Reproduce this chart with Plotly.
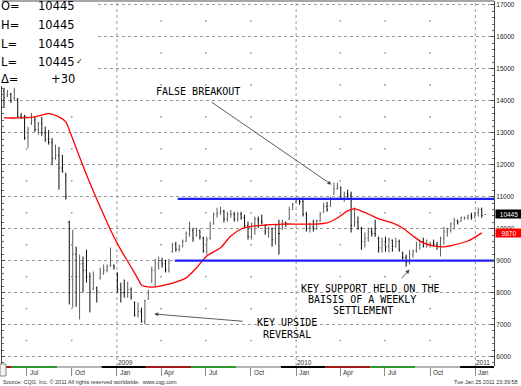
import plotly.graph_objects as go
import pandas as pd

# ---------------- data ----------------
week_start = "2008-05-16"
n_weeks = 141
weeks = pd.date_range(week_start, periods=n_weeks, freq="7D")

highs = [14410, 14340, 14250, 14410, 14090, 13620, 13560, 13190, 13620, 13500,
         13340, 13500, 13190, 13090, 12840, 12630, 12560, 12310, 11750, 10250,
         9970, 9440, 9190, 9130, 9340, 8630, 8660, 8190, 8780, 8880,
         8880, 9410, 8880, 8630, 8310, 8410, 8340, 8160, 7720, 7690,
         7530, 7780, 8090, 8810, 9060, 9130, 9090, 9030, 9060, 9560,
         9590, 9500, 9660, 9910, 10220, 10030, 10030, 9970, 9750, 9750,
         10220, 10500, 10660, 10690, 10590, 10530, 10590, 10530, 10530, 10530,
         10440, 10220, 10190, 10380, 10380, 10440, 10130, 10060, 10030, 10130,
         10280, 10280, 10220, 10690, 10810, 10970, 10970, 10970, 10530, 10190,
         10280, 10280, 10530, 10810, 10840, 11000, 11440, 11440, 11310, 11160,
         11220, 11160, 10660, 10380, 10060, 9880, 10030, 10030, 10280, 9750,
         9720, 9750, 9720, 9660, 9720, 9660, 9280, 9190, 9340, 9340,
         9590, 9660, 9720, 9660, 9590, 9660, 9590, 9750, 10060, 10030,
         10190, 10340, 10280, 10380, 10380, 10440, 10500, 10530, 10660, 10660,
         10445]
lows = [13780, 14120, 13940, 14030, 13470, 13440, 12780, 12530, 13250, 13030,
        12940, 12910, 12720, 12630, 12000, 12160, 11220, 11750, 10910, 7630,
        7530, 7560, 7160, 8000, 8310, 7380, 8090, 7690, 8410, 8560,
        8630, 8810, 8720, 8000, 7690, 7840, 7840, 7780, 7250, 7220,
        7060, 7000, 7780, 8310, 8190, 8720, 8780, 8630, 8630, 9250,
        9280, 9280, 9410, 9590, 9750, 9590, 9750, 9660, 9250, 9190,
        9660, 10130, 10340, 10440, 10190, 10220, 10340, 10220, 10220, 10280,
        10030, 9660, 9660, 9810, 10030, 10130, 9810, 9720, 9440, 9500,
        9190, 9970, 10060, 10280, 10590, 10810, 10750, 10380, 9910, 9880,
        9910, 9970, 10220, 10500, 10530, 10690, 11060, 11220, 10910, 10840,
        10910, 9880, 10060, 9970, 9340, 9410, 9590, 9750, 9750, 9250,
        9250, 9280, 9250, 9280, 9410, 9280, 9030, 8810, 8880, 9090,
        9250, 9340, 9410, 9410, 9410, 9440, 9340, 9130, 9500, 9750,
        9880, 9970, 10130, 10220, 10280, 10280, 10280, 10340, 10380, 10340,
        10445]
opens = [14300, 14150, 14200, 14050, 14050, 13500, 13500, 12850, 13300, 13400,
         13100, 13300, 13000, 12800, 12700, 12200, 12300, 11900, 11700, 10200,
         8400, 9200, 8500, 8900, 8700, 8500, 8100, 8150, 8450, 8600,
         8700, 8850, 8850, 8600, 8100, 8000, 8000, 8100, 7700, 7300,
         7400, 7100, 7800, 8350, 8700, 8900, 9000, 8900, 8700, 9280,
         9500, 9350, 9450, 9600, 9850, 9950, 9780, 9950, 9700, 9300,
         9700, 10150, 10450, 10500, 10550, 10300, 10450, 10450, 10300, 10450,
         10350, 10100, 9750, 10150, 10300, 10250, 10100, 9900, 10000, 9650,
         9850, 10000, 10200, 10300, 10600, 10820, 10900, 10850, 10450, 10000,
         10050, 10000, 10250, 10500, 10700, 10700, 11080, 11250, 11300, 10950,
         11100, 11050, 10100, 10200, 10000, 9600, 9700, 9900, 9850, 9700,
         9400, 9600, 9450, 9640, 9450, 9600, 9250, 9100, 8950, 9200,
         9300, 9500, 9600, 9450, 9500, 9550, 9500, 9450, 9700, 9900,
         9950, 10150, 10250, 10230, 10350, 10350, 10400, 10350, 10500, 10600,
         10445]
closes = [14100, 14200, 14000, 14100, 13500, 13500, 12850, 13100, 13400, 13100,
          13300, 13000, 12800, 12700, 12200, 12300, 11900, 11800, 11000, 8400,
          9200, 8500, 8900, 8700, 8500, 8000, 8300, 8050, 8600, 8700,
          8800, 8850, 8800, 8100, 8000, 8000, 8100, 7850, 7300, 7400,
          7100, 7750, 8000, 8700, 8900, 9000, 8900, 8700, 8950, 9500,
          9350, 9450, 9600, 9850, 9950, 9700, 9950, 9750, 9300, 9650,
          10100, 10450, 10500, 10550, 10300, 10450, 10450, 10300, 10450, 10350,
          10100, 9750, 10150, 10300, 10250, 10200, 9900, 10000, 9650, 10100,
          9850, 10200, 10150, 10600, 10750, 10900, 10850, 10450, 10000, 10050,
          10000, 10250, 10450, 10700, 10600, 10950, 11250, 11300, 10950, 11100,
          11050, 10100, 10200, 10000, 9600, 9700, 9900, 9850, 9800, 9400,
          9600, 9450, 9650, 9450, 9600, 9350, 9100, 8950, 9200, 9300,
          9500, 9600, 9450, 9500, 9550, 9500, 9450, 9700, 9900, 9950,
          10150, 10250, 10200, 10350, 10350, 10400, 10350, 10500, 10600, 10415,
          10445]

# moving average (red), read at selected weeks
ma_week = [0, 4, 9, 13, 16, 18, 19, 22, 25, 28, 31, 34, 37, 39, 40, 42, 44, 47, 50,
           53, 56, 59, 63, 66, 69, 73, 76, 81, 86, 91, 94, 97, 100, 102, 106, 109,
           113, 116, 119, 122, 125, 128, 131, 135, 139]
ma_value = [13465, 13465, 13500, 13600, 13500, 13340, 13090, 12245, 11430, 10680,
            9960, 9335, 8800, 8430, 8240, 8180, 8180, 8240, 8330,
            8460, 8770, 9145, 9400, 9770, 9990, 10085, 10115, 10145, 10145, 10145,
            10180, 10335, 10555, 10620, 10460, 10305,
            10180, 10020, 9770, 9555, 9460, 9430, 9490, 9615, 9870]

resistance_level = 10930
resistance_start = "2009-05-05"
support_level = 9000
support_start = "2009-04-29"

y_ticks = [6000, 7000, 8000, 9000, 10000, 11000, 12000, 13000, 14000, 15000, 16000, 17000]
quarter_dates = ["2008-07-01", "2008-10-01", "2009-01-01", "2009-04-01", "2009-07-01",
                 "2009-10-01", "2010-01-01", "2010-04-01", "2010-07-01", "2010-10-01",
                 "2011-01-01"]
quarter_names = ["Jul", "Oct", "Jan", "Apr", "Jul", "Oct", "Jan", "Apr", "Jul", "Oct", "Jan"]
year_dates = ["2009-01-01", "2010-01-01", "2011-01-01"]
year_names = ["2009", "2010", "2011"]
band_edges = ["2008-05-12", "2008-06-01", "2008-09-01", "2008-12-01", "2009-03-01",
              "2009-06-01", "2009-09-01", "2009-12-01", "2010-03-01", "2010-06-01",
              "2010-09-01", "2010-12-01", "2011-02-08"]
band_colors = ["#a01818", "#2f9a2f", "#b4b4b4", "#000000", "#a01818", "#2f9a2f",
               "#b4b4b4", "#000000", "#a01818", "#2f9a2f", "#b4b4b4", "#000000"]

x_range = ["2008-05-12", "2011-02-08"]
y_range = [5703, 17125]

# ---------------- helpers for layout placement ----------------
W, H = 521, 386
ML, MR, MT, MB = 2, 27, 1, 20
PW, PH = W - ML - MR, H - MT - MB


def px(x):
    return (x - ML) / PW


def py(y):
    return (H - MB - y) / PH


fig = go.Figure()

# quarter dot grid (at half-thousand levels)
dot_x, dot_y = [], []
for q in quarter_dates:
    if q in year_dates:
        continue
    for lvl in range(6500, 17000, 1000):
        dot_x.append(q)
        dot_y.append(lvl)
fig.add_trace(go.Scatter(x=dot_x, y=dot_y, mode="markers",
                         marker=dict(size=1.6, color="#9a9a9a", symbol="square"),
                         hoverinfo="skip", showlegend=False))

fig.add_trace(go.Ohlc(
    x=weeks, open=opens, high=highs, low=lows, close=closes,
    increasing=dict(line=dict(color="#5c5c5c", width=1)),
    decreasing=dict(line=dict(color="#0a0a0a", width=1)),
    tickwidth=0.25, showlegend=False, hoverinfo="skip"))

fig.add_trace(go.Scatter(
    x=[weeks[i] for i in ma_week], y=ma_value, mode="lines",
    line=dict(color="#ff0000", width=1.3, shape="spline", smoothing=0.7),
    hoverinfo="skip", showlegend=False))

fig.add_trace(go.Scatter(x=[resistance_start, x_range[1]], y=[resistance_level] * 2,
                         mode="lines", line=dict(color="#2020ff", width=2.2),
                         hoverinfo="skip", showlegend=False))
fig.add_trace(go.Scatter(x=[support_start, x_range[1]], y=[support_level] * 2,
                         mode="lines", line=dict(color="#2020ff", width=2.2),
                         hoverinfo="skip", showlegend=False))

shapes = []
for yd in year_dates:
    shapes.append(dict(type="line", xref="x", yref="paper", x0=yd, x1=yd, y0=0, y1=1,
                       line=dict(color="#9a9a9a", width=1, dash="dot"), layer="below"))
for i, c in enumerate(band_colors):
    shapes.append(dict(type="rect", xref="x", yref="paper", x0=band_edges[i], x1=band_edges[i + 1],
                       y0=py(368), y1=py(366), fillcolor=c, line=dict(width=0), layer="above"))
# white info box
shapes.append(dict(type="rect", xref="paper", yref="paper", x0=px(0), x1=px(95), y0=py(86), y1=1,
                   fillcolor="white", line=dict(width=0), layer="above"))
# top border
shapes.append(dict(type="line", xref="paper", yref="paper", x0=0, x1=1, y0=1, y1=1,
                   line=dict(color="#8a8a8a", width=1.5)))
# small icon bottom-left
shapes.append(dict(type="rect", xref="paper", yref="paper", x0=px(0), x1=px(6), y0=py(376), y1=py(364),
                   fillcolor="#f4f4f4", line=dict(color="#888", width=1)))

ann = []
info_font = dict(family="DejaVu Sans", size=11.5, color="black")
last_c = closes[-1]
delta = closes[-1] - closes[-2]
info_rows = [("O=", f"{opens[-1]}", 6.5), ("H=", f"{highs[-1]}", 25), ("L=", f"{lows[-1]}", 43.5),
             ("L=", f"{last_c}", 61.5), ("Δ=", f"{delta:+d}", 79.5)]
for lab, val, yy in info_rows:
    ann.append(dict(xref="paper", yref="paper", x=px(-1), y=py(yy), text=lab, showarrow=False,
                    xanchor="left", yanchor="middle", font=info_font))
    ann.append(dict(xref="paper", yref="paper", x=px(77), y=py(yy), text=val, showarrow=False,
                    xanchor="right", yanchor="middle", font=info_font))
ann.append(dict(xref="paper", yref="paper", x=px(74), y=py(62), text="✓", showarrow=False,
                xanchor="left", yanchor="middle", font=dict(family="DejaVu Sans", size=8, color="black")))

# value boxes on the price axis
ann.append(dict(xref="paper", yref="y", x=1, y=last_c, text=f"{last_c}", showarrow=False,
                xanchor="left", yanchor="middle", xshift=1, bgcolor="black", width=24, height=6,
                borderpad=1, font=dict(family="Liberation Sans", size=6.5, color="white")))
ann.append(dict(xref="paper", yref="y", x=1, y=ma_value[-1], text=f"{ma_value[-1]}", showarrow=False,
                xanchor="left", yanchor="middle", xshift=1, bgcolor="#ff0000", width=24, height=6,
                borderpad=1, font=dict(family="Liberation Sans", size=6.5, color="white")))

# month and year labels
for d, nme in zip(quarter_dates, quarter_names):
    ann.append(dict(xref="x", yref="paper", x=d, y=py(372.5), text=nme, showarrow=False,
                    xanchor="left", yanchor="middle", xshift=1,
                    font=dict(family="Liberation Sans", size=6.5, color="#333")))
for d, nme in zip(year_dates, year_names):
    ann.append(dict(xref="x", yref="paper", x=d, y=py(362.5), text=nme, showarrow=False,
                    xanchor="left", yanchor="middle", xshift=-1,
                    font=dict(family="Liberation Sans", size=6.5, color="#333")))

ann.append(dict(xref="paper", yref="paper", x=px(1), y=py(382), text="Source: CQG, Inc. © 2011 All rights reserved worldwide.  www.cqg.com",
                showarrow=False, xanchor="left", yanchor="middle",
                font=dict(family="Liberation Sans", size=5.5, color="#333")))
ann.append(dict(xref="paper", yref="paper", x=px(520), y=py(382), text="Tue Jan 25 2011 23:39:58",
                showarrow=False, xanchor="right", yanchor="middle",
                font=dict(family="Liberation Sans", size=5.5, color="#333")))

# chart notes
note_font = dict(family="DejaVu Sans Mono", size=10, color="black")
ann.append(dict(xref="paper", yref="paper", x=px(154), y=py(91.5), text="FALSE BREAKOUT", showarrow=False,
                xanchor="left", yanchor="middle", font=note_font))
ann.append(dict(xref="paper", yref="paper", x=px(287), y=py(322), text="KEY UPSIDE", showarrow=False,
                xanchor="center", yanchor="middle", font=note_font))
ann.append(dict(xref="paper", yref="paper", x=px(287), y=py(334), text="REVERSAL", showarrow=False,
                xanchor="center", yanchor="middle", font=note_font))
for txt, xl, yy in [("KEY SUPPORT HELD ON THE", 299, 288), ("BAISIS OF A WEEKLY", 306, 299.5),
                    ("SETTLEMENT", 331, 310.5)]:
    ann.append(dict(xref="paper", yref="paper", x=px(xl), y=py(yy), text=txt, showarrow=False,
                    xanchor="left", yanchor="middle", font=note_font))

arrow_style = dict(showarrow=True, arrowhead=2, arrowsize=0.9, arrowwidth=0.9, arrowcolor="#4a4a4a",
                   standoff=0, startstandoff=0, text="", axref="x", ayref="y", xref="x", yref="y")
ann.append(dict(x="2010-03-14", y=11380, ax="2009-07-10", ay=13990, **arrow_style))
ann.append(dict(x="2009-03-18", y=7330, ax="2009-09-17", ay=7100, **arrow_style))
ann.append(dict(x="2010-08-20", y=8720, ax="2010-08-01", ay=8400, **arrow_style))

fig.update_layout(
    width=W, height=H, autosize=False,
    margin=dict(l=ML, r=MR, t=MT, b=MB, pad=0),
    paper_bgcolor="white", plot_bgcolor="white",
    showlegend=False, shapes=shapes, annotations=ann,
    xaxis=dict(type="date", range=x_range, showgrid=False, zeroline=False,
               tickmode="array", tickvals=quarter_dates, showticklabels=False,
               ticks="outside", ticklen=9, tickcolor="#8a8a8a", tickwidth=1,
               showline=False, rangeslider=dict(visible=False), fixedrange=True),
    yaxis=dict(side="right", range=y_range, tickmode="array", tickvals=y_ticks,
               ticktext=[str(v) for v in y_ticks],
               tickfont=dict(family="Liberation Sans", size=6.5, color="#222"),
               showgrid=True, gridcolor="#9a9a9a", griddash="dot", gridwidth=1,
               zeroline=False, ticks="inside", ticklen=3, tickcolor="#444",
               showline=True, linecolor="#444", linewidth=1, mirror="allticks",
               minor=dict(dtick=200, tick0=0, ticks="inside", ticklen=2, tickcolor="#666", showgrid=False),
               fixedrange=True),
)

fig.write_html("out.html")
